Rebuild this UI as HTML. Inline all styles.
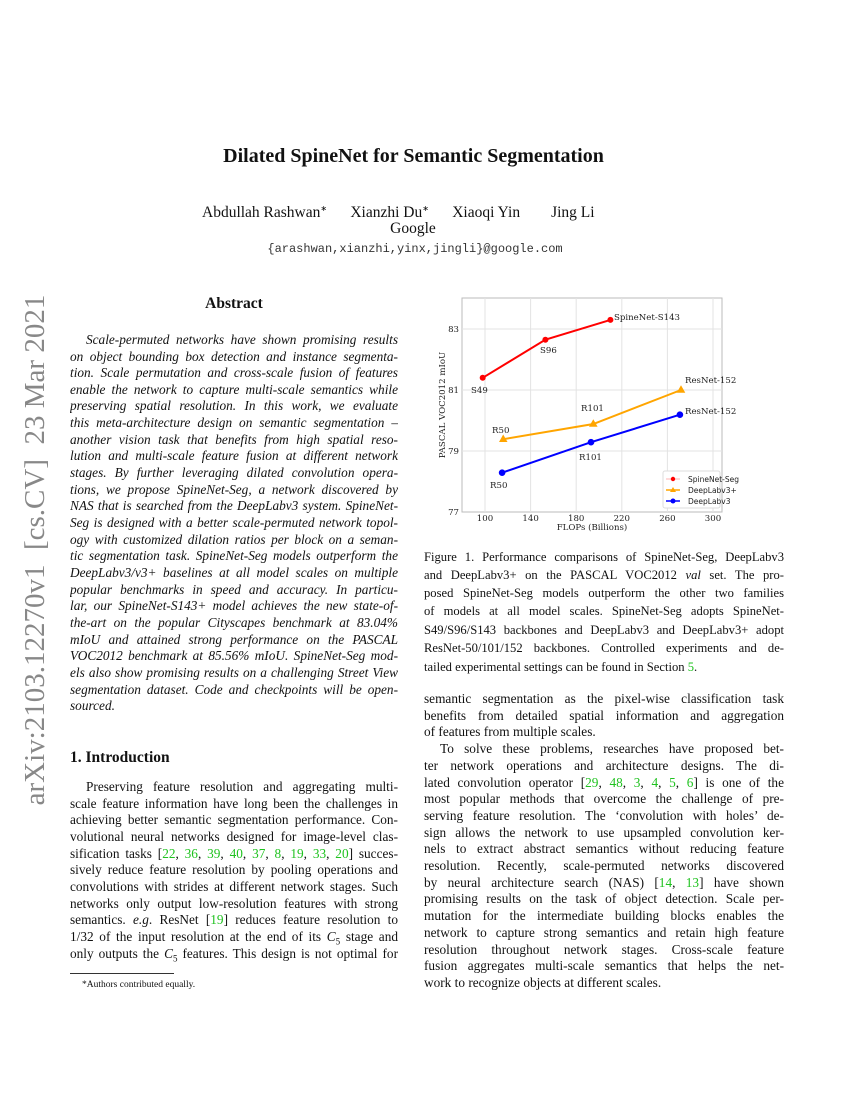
<!DOCTYPE html>
<html><head><meta charset="utf-8"><style>
body{margin:0;background:#fff;}
#p{position:relative;width:850px;height:1100px;overflow:hidden;font-family:"Liberation Serif",serif;color:#111;}
.l{position:absolute;font-size:13.3px;line-height:16px;white-space:nowrap;}
.j{text-align:justify;text-align-last:justify;white-space:normal;height:16px;overflow:hidden;}
.L{left:70px;width:328px;}
.R{left:424px;width:360px;}
.i{font-style:italic;}
.g{color:#1fc21f;}
.c{font-size:12.6px;}
</style></head><body><div id="p">
<div class="l" style="left:0;width:827px;text-align:center;top:145px;font-size:20px;font-weight:bold;line-height:22px">Dilated SpineNet for Semantic Segmentation</div>
<div class="l" style="left:202px;top:200px;font-size:15.5px;line-height:18px">Abdullah Rashwan<sup style="font-size:8px">∗</sup>&nbsp;&nbsp;&nbsp;&nbsp;&nbsp;&nbsp;Xianzhi Du<sup style="font-size:8px">∗</sup>&nbsp;&nbsp;&nbsp;&nbsp;&nbsp;&nbsp;Xiaoqi Yin&nbsp;&nbsp;&nbsp;&nbsp;&nbsp;&nbsp;&nbsp;&nbsp;Jing Li</div>
<div class="l" style="left:0;width:826px;text-align:center;top:220px;font-size:15.5px;line-height:18px">Google</div>
<div class="l" style="left:0;width:830px;text-align:center;top:241px;font-family:'Liberation Mono',monospace;font-size:12px;color:#333">{arashwan,xianzhi,yinx,jingli}@google.com</div>
<div class="l" style="left:20px;top:290px;width:30px;height:520px;"><div style="position:absolute;left:-245px;top:245px;width:520px;transform:rotate(-90deg);font-size:29px;line-height:30px;color:#888;text-align:center;white-space:nowrap">arXiv:2103.12270v1&nbsp; [cs.CV]&nbsp; 23 Mar 2021</div></div>
<div class="l" style="left:70px;width:328px;text-align:center;top:295px;font-size:15.5px;font-weight:bold;line-height:18px">Abstract</div>
<div class="l L j i" style="top:332px;padding-left:16px;width:312px">Scale-permuted networks have shown promising results</div>
<div class="l L j i" style="top:349px">on object bounding box detection and instance segmenta-</div>
<div class="l L j i" style="top:365px">tion. Scale permutation and cross-scale fusion of features</div>
<div class="l L j i" style="top:382px">enable the network to capture multi-scale semantics while</div>
<div class="l L j i" style="top:398px">preserving spatial resolution. In this work, we evaluate</div>
<div class="l L j i" style="top:415px">this meta-architecture design on semantic segmentation –</div>
<div class="l L j i" style="top:432px">another vision task that benefits from high spatial reso-</div>
<div class="l L j i" style="top:448px">lution and multi-scale feature fusion at different network</div>
<div class="l L j i" style="top:465px">stages. By further leveraging dilated convolution opera-</div>
<div class="l L j i" style="top:482px">tions, we propose SpineNet-Seg, a network discovered by</div>
<div class="l L j i" style="top:498px">NAS that is searched from the DeepLabv3 system. SpineNet-</div>
<div class="l L j i" style="top:515px">Seg is designed with a better scale-permuted network topol-</div>
<div class="l L j i" style="top:532px">ogy with customized dilation ratios per block on a seman-</div>
<div class="l L j i" style="top:548px">tic segmentation task. SpineNet-Seg models outperform the</div>
<div class="l L j i" style="top:565px">DeepLabv3/v3+ baselines at all model scales on multiple</div>
<div class="l L j i" style="top:582px">popular benchmarks in speed and accuracy. In particu-</div>
<div class="l L j i" style="top:598px">lar, our SpineNet-S143+ model achieves the new state-of-</div>
<div class="l L j i" style="top:615px">the-art on the popular Cityscapes benchmark at 83.04%</div>
<div class="l L j i" style="top:632px">mIoU and attained strong performance on the PASCAL</div>
<div class="l L j i" style="top:648px">VOC2012 benchmark at 85.56% mIoU. SpineNet-Seg mod-</div>
<div class="l L j i" style="top:665px">els also show promising results on a challenging Street View</div>
<div class="l L j i" style="top:682px">segmentation dataset. Code and checkpoints will be open-</div>
<div class="l L i" style="top:698px">sourced.</div>
<div class="l" style="left:70px;top:749px;font-size:15.5px;font-weight:bold;line-height:18px">1. Introduction</div>
<div class="l L j" style="top:779px;padding-left:16px;width:312px">Preserving feature resolution and aggregating multi-</div>
<div class="l L j" style="top:796px">scale feature information have long been the challenges in</div>
<div class="l L j" style="top:812px">achieving better semantic segmentation performance. Con-</div>
<div class="l L j" style="top:829px">volutional neural networks designed for image-level clas-</div>
<div class="l L j" style="top:846px">sification tasks [<span class="g">22</span>, <span class="g">36</span>, <span class="g">39</span>, <span class="g">40</span>, <span class="g">37</span>, <span class="g">8</span>, <span class="g">19</span>, <span class="g">33</span>, <span class="g">20</span>] succes-</div>
<div class="l L j" style="top:862px">sively reduce feature resolution by pooling operations and</div>
<div class="l L j" style="top:879px">convolutions with strides at different network stages. Such</div>
<div class="l L j" style="top:896px">networks only output low-resolution features with strong</div>
<div class="l L j" style="top:912px">semantics. <i>e.g</i>. ResNet [<span class="g">19</span>] reduces feature resolution to</div>
<div class="l L j" style="top:929px">1/32 of the input resolution at the end of its <i>C</i><sub style="font-size:9px">5</sub> stage and</div>
<div class="l L j" style="top:946px">only outputs the <i>C</i><sub style="font-size:9px">5</sub> features. This design is not optimal for</div>
<div style="position:absolute;left:70px;top:973px;width:104px;border-top:1px solid #333"></div>
<div class="l" style="left:82px;top:977px;font-size:9.5px">*Authors contributed equally.</div>

<svg style="position:absolute;left:0;top:0" width="850" height="1100" font-family="DejaVu Serif, serif">
<rect x="462" y="298" width="260" height="214" fill="#fff" stroke="#bbb" stroke-width="1"/>
<g stroke="#e3e3e3" stroke-width="1">
<line x1="485" y1="298" x2="485" y2="512"/><line x1="530.6" y1="298" x2="530.6" y2="512"/><line x1="576.2" y1="298" x2="576.2" y2="512"/><line x1="621.8" y1="298" x2="621.8" y2="512"/><line x1="667.4" y1="298" x2="667.4" y2="512"/><line x1="713" y1="298" x2="713" y2="512"/>
<line x1="462" y1="329" x2="722" y2="329"/><line x1="462" y1="390" x2="722" y2="390"/><line x1="462" y1="451" x2="722" y2="451"/>
</g>
<g font-size="8.6" fill="#222" text-anchor="middle">
<text x="485" y="521">100</text><text x="530.6" y="521">140</text><text x="576.2" y="521">180</text><text x="621.8" y="521">220</text><text x="667.4" y="521">260</text><text x="713" y="521">300</text>
<text x="592" y="530">FLOPs (Billions)</text>
</g>
<g font-size="8.6" fill="#222" text-anchor="end">
<text x="459" y="332">83</text><text x="459" y="393">81</text><text x="459" y="454">79</text><text x="459" y="515">77</text>
</g>
<text transform="translate(445,405) rotate(-90)" font-size="8.6" text-anchor="middle" fill="#222">PASCAL VOC2012 mIoU</text>
<polyline points="482.7,377.8 545.4,339.7 610.4,319.9" fill="none" stroke="#f00" stroke-width="2"/>
<g fill="#f00"><circle cx="482.7" cy="377.8" r="3"/><circle cx="545.4" cy="339.7" r="3"/><circle cx="610.4" cy="319.9" r="3"/></g>
<polyline points="503.2,439.2 593.3,424 681,390" fill="none" stroke="#ffa500" stroke-width="2"/>
<g fill="#ffa500"><path d="M503.2,434.5 L507.5,442 L499,442Z"/><path d="M593.3,419.3 L597.6,426.8 L589,426.8Z"/><path d="M681,385.3 L685.3,392.8 L676.7,392.8Z"/></g>
<polyline points="502.1,472.7 591,442.2 679.9,414.7" fill="none" stroke="#00f" stroke-width="2"/>
<g fill="#00f"><circle cx="502.1" cy="472.7" r="3.3"/><circle cx="591" cy="442.2" r="3.3"/><circle cx="679.9" cy="414.7" r="3.3"/></g>
<g font-size="8.6" fill="#222">
<text x="614" y="320">SpineNet-S143</text><text x="540" y="353">S96</text><text x="471" y="393">S49</text>
<text x="685" y="383">ResNet-152</text><text x="581" y="411">R101</text><text x="492" y="433">R50</text>
<text x="685" y="414">ResNet-152</text><text x="579" y="460">R101</text><text x="490" y="488">R50</text>
</g>
<rect x="663" y="471" width="57" height="37" fill="#fff" stroke="#ddd" rx="2"/>
<g font-size="7.5" fill="#222" font-family="DejaVu Sans, sans-serif">
<line x1="666" y1="479" x2="680" y2="479" stroke="#fcc" stroke-width="1.5"/><circle cx="673" cy="479" r="2.2" fill="#f00"/><text x="688" y="482">SpineNet-Seg</text>
<line x1="666" y1="490" x2="680" y2="490" stroke="#ffa500" stroke-width="1.5"/><path d="M673,487 L676,492 L670,492Z" fill="#ffa500"/><text x="688" y="493">DeepLabv3+</text>
<line x1="666" y1="501" x2="680" y2="501" stroke="#00f" stroke-width="1.5"/><circle cx="673" cy="501" r="2.5" fill="#00f"/><text x="688" y="504">DeepLabv3</text>
</g>
</svg>

<div class="l R j c" style="top:549px">Figure 1. Performance comparisons of SpineNet-Seg, DeepLabv3</div>
<div class="l R j c" style="top:567px">and DeepLabv3+ on the PASCAL VOC2012 <i>val</i> set. The pro-</div>
<div class="l R j c" style="top:585px">posed SpineNet-Seg models outperform the other two families</div>
<div class="l R j c" style="top:603px">of models at all model scales. SpineNet-Seg adopts SpineNet-</div>
<div class="l R j c" style="top:622px">S49/S96/S143 backbones and DeepLabv3 and DeepLabv3+ adopt</div>
<div class="l R j c" style="top:640px">ResNet-50/101/152 backbones. Controlled experiments and de-</div>
<div class="l R c" style="top:659px">tailed experimental settings can be found in Section <span class="g">5</span>.</div>
<div class="l R j" style="top:691px">semantic segmentation as the pixel-wise classification task</div>
<div class="l R j" style="top:708px">benefits from detailed spatial information and aggregation</div>
<div class="l R" style="top:724px">of features from multiple scales.</div>
<div class="l R j" style="top:741px;padding-left:16px;width:344px">To solve these problems, researches have proposed bet-</div>
<div class="l R j" style="top:758px">ter network operations and architecture designs. The di-</div>
<div class="l R j" style="top:775px">lated convolution operator [<span class="g">29</span>, <span class="g">48</span>, <span class="g">3</span>, <span class="g">4</span>, <span class="g">5</span>, <span class="g">6</span>] is one of the</div>
<div class="l R j" style="top:791px">most popular methods that overcome the challenge of pre-</div>
<div class="l R j" style="top:808px">serving feature resolution. The ‘convolution with holes’ de-</div>
<div class="l R j" style="top:825px">sign allows the network to use upsampled convolution ker-</div>
<div class="l R j" style="top:841px">nels to extract abstract semantics without reducing feature</div>
<div class="l R j" style="top:858px">resolution. Recently, scale-permuted networks discovered</div>
<div class="l R j" style="top:875px">by neural architecture search (NAS) [<span class="g">14</span>, <span class="g">13</span>] have shown</div>
<div class="l R j" style="top:891px">promising results on the task of object detection. Scale per-</div>
<div class="l R j" style="top:908px">mutation for the intermediate building blocks enables the</div>
<div class="l R j" style="top:925px">network to capture strong semantics and retain high feature</div>
<div class="l R j" style="top:942px">resolution throughout network stages. Cross-scale feature</div>
<div class="l R j" style="top:958px">fusion aggregates multi-scale semantics that helps the net-</div>
<div class="l R" style="top:975px">work to recognize objects at different scales.</div>
</div></body></html>
